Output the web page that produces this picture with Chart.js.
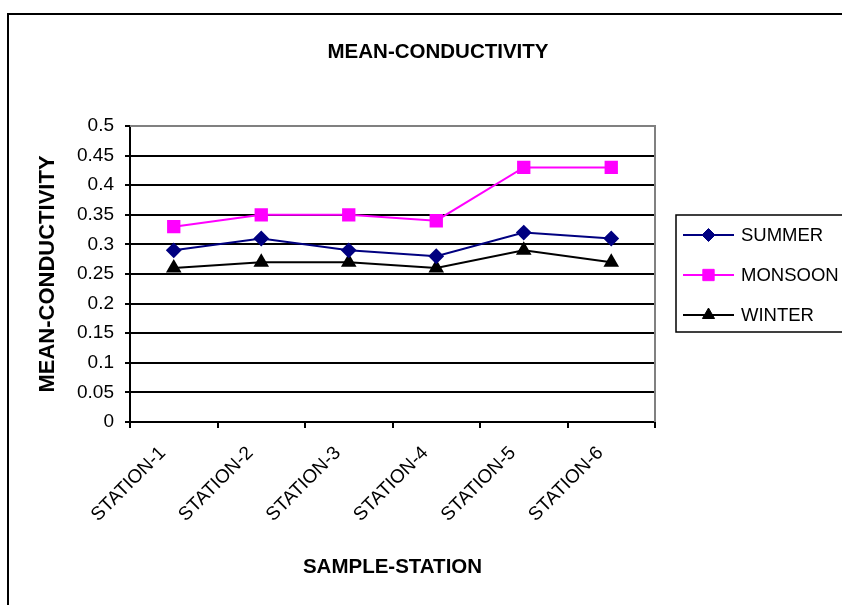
<!DOCTYPE html>
<html>
<head>
<meta charset="utf-8">
<title>MEAN-CONDUCTIVITY</title>
<script src="https://cdn.jsdelivr.net/npm/chart.js@4.4.1/dist/chart.umd.min.js"></script>
<style>
    html, body { margin: 0; padding: 0; background: #fff; }
</style>
</head>
<body>
<canvas id="myChart" width="842" height="605"></canvas>
<script>
const chartTitle = 'MEAN-CONDUCTIVITY';
const stations = ['STATION-1', 'STATION-2', 'STATION-3', 'STATION-4', 'STATION-5', 'STATION-6'];
const summer = [0.29, 0.31, 0.29, 0.28, 0.32, 0.31];
const monsoon = [0.33, 0.35, 0.35, 0.34, 0.43, 0.43];
const winter = [0.26, 0.27, 0.27, 0.26, 0.29, 0.27];
const yTicks = [0, 0.05, 0.1, 0.15, 0.2, 0.25, 0.3, 0.35, 0.4, 0.45, 0.5];

const family = '"Liberation Sans", Arial, sans-serif';

// frame, title, grey plot border and the boxed legend, Excel style
const excelLook = {
    id: 'excelLook',
    beforeDraw(chart) {
        const ctx = chart.ctx;
        ctx.save();
        ctx.fillStyle = '#fff';
        ctx.fillRect(0, 0, chart.width, chart.height);
        ctx.strokeStyle = '#000';
        ctx.lineWidth = 2;
        ctx.strokeRect(8, 14, chart.width + 40, chart.height + 40);
        ctx.fillStyle = '#000';
        ctx.font = 'bold 20.5px ' + family;
        ctx.textAlign = 'center';
        ctx.textBaseline = 'middle';
        ctx.fillText(chartTitle, 438, 52);
        ctx.restore();
    },
    beforeDatasetsDraw(chart) {
        const ctx = chart.ctx;
        const area = chart.chartArea;
        ctx.save();
        ctx.strokeStyle = '#808080';
        ctx.lineWidth = 2;
        ctx.beginPath();
        ctx.moveTo(area.left, area.top);
        ctx.lineTo(area.right, area.top);
        ctx.lineTo(area.right, area.bottom);
        ctx.stroke();
        ctx.restore();
    },
    afterDraw(chart) {
        const ctx = chart.ctx;
        ctx.save();
        ctx.strokeStyle = '#000';
        ctx.lineWidth = 1.5;
        ctx.strokeRect(676, 215, 200, 117);
        chart.data.datasets.forEach((ds, i) => {
            const y = 235 + i * 40;
            ctx.strokeStyle = ds.borderColor;
            ctx.lineWidth = ds.borderWidth;
            ctx.beginPath();
            ctx.moveTo(683, y);
            ctx.lineTo(734, y);
            ctx.stroke();
            ctx.fillStyle = ds.backgroundColor;
            ctx.lineWidth = 1;
            Chart.helpers.drawPoint(ctx, { pointStyle: ds.pointStyle, radius: ds.pointRadius, borderWidth: 1, rotation: 0 }, 708.5, y);
            ctx.fillStyle = '#000';
            ctx.font = '18.5px ' + family;
            ctx.textAlign = 'left';
            ctx.textBaseline = 'middle';
            ctx.fillText(ds.label, 741, y + 1);
        });
        ctx.restore();
    }
};

const ctx = document.getElementById('myChart');
const chartInstance = new Chart(ctx, {
    type: 'line',
    data: {
        labels: stations,
        datasets: [{
            label: 'SUMMER',
            data: summer,
            borderColor: '#000080',
            backgroundColor: '#000080',
            borderWidth: 2,
            pointStyle: 'rectRot',
            pointRadius: 6.5
        }, {
            label: 'MONSOON',
            data: monsoon,
            borderColor: '#FF00FF',
            backgroundColor: '#FF00FF',
            borderWidth: 2,
            pointStyle: 'rect',
            pointRadius: 8
        }, {
            label: 'WINTER',
            data: winter,
            borderColor: '#000000',
            backgroundColor: '#000000',
            borderWidth: 2,
            pointStyle: 'triangle',
            pointRadius: 7
        }]
    },
    options: {
        responsive: false,
        animation: false,
        layout: { padding: { left: 30, right: 187, top: 126, bottom: 0 } },
        elements: { line: { tension: 0 } },
        plugins: {
            legend: { display: false },
            title: { display: false },
            tooltip: { enabled: false }
        },
        scales: {
            x: {
                offset: true,
                afterFit(scale) { scale.height = 183; },
                grid: { drawOnChartArea: false, offset: true, tickLength: 6, color: '#000', lineWidth: 2 },
                border: { color: '#000', width: 2 },
                ticks: {
                    color: '#000',
                    font: { family: family, size: 19 },
                    minRotation: 45,
                    maxRotation: 45,
                    autoSkip: false,
                    padding: 14,
                    labelOffset: -11
                },
                title: {
                    display: true,
                    text: 'SAMPLE-STATION',
                    color: '#000',
                    font: { family: family, size: 20.5, weight: 'bold' },
                    padding: { top: 0, bottom: 25 }
                }
            },
            y: {
                min: 0,
                max: 0.5,
                afterFit(scale) { scale.width = 100; },
                afterBuildTicks(scale) { scale.ticks = yTicks.map(v => ({ value: v })); },
                grid: {
                    color: (c) => (c.tick && c.tick.value === 0.5 ? '#808080' : '#000'),
                    tickColor: '#000',
                    lineWidth: 2,
                    tickLength: 5
                },
                border: { color: '#000', width: 2 },
                ticks: {
                    color: '#000',
                    font: { family: family, size: 19 },
                    padding: 11,
                    callback: (v) => String(v)
                },
                title: {
                    display: true,
                    text: 'MEAN-CONDUCTIVITY',
                    color: '#000',
                    font: { family: family, size: 22, weight: 'bold' },
                    padding: { top: 5, bottom: 0 }
                }
            }
        }
    },
    plugins: [excelLook]
});
</script>
</body>
</html>
